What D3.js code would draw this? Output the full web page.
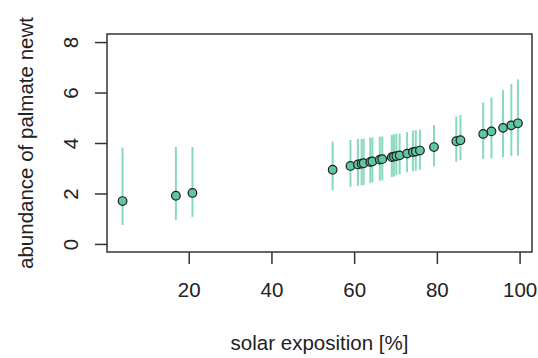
<!DOCTYPE html>
<html>
<head>
<meta charset="utf-8">
<script src="https://cdn.jsdelivr.net/npm/d3@7"></script>
<style>
  html, body { margin: 0; padding: 0; background: #fff; }
  svg { display: block; }
  text { font-family: "Liberation Sans", Arial, sans-serif; fill: #222; }
</style>
</head>
<body>
<div id="chart"></div>
<script>
// ---- data ----
const solarExposition = [4.0, 16.9, 20.9, 54.8, 59.1, 60.9, 61.8, 62.3, 63.9, 64.4, 66.2, 66.8, 69.1, 69.6, 70.2, 71.0, 72.8, 74.2, 74.9, 75.9, 79.3, 84.7, 85.7, 91.2, 93.2, 96.0, 98.0, 99.6];
const abundance       = [1.70, 1.91, 2.02, 2.94, 3.09, 3.15, 3.18, 3.20, 3.25, 3.27, 3.34, 3.36, 3.44, 3.46, 3.48, 3.51, 3.58, 3.64, 3.66, 3.70, 3.84, 4.07, 4.11, 4.36, 4.46, 4.60, 4.70, 4.78];
const lowerCI         = [0.75, 0.96, 1.07, 2.12, 2.26, 2.30, 2.32, 2.34, 2.42, 2.44, 2.50, 2.52, 2.65, 2.67, 2.72, 2.76, 2.84, 2.88, 2.90, 2.94, 3.07, 3.26, 3.32, 3.37, 3.38, 3.44, 3.49, 3.50];
const upperCI         = [3.82, 3.84, 3.84, 4.06, 4.12, 4.16, 4.16, 4.17, 4.21, 4.22, 4.25, 4.26, 4.32, 4.34, 4.36, 4.37, 4.43, 4.49, 4.51, 4.53, 4.71, 5.05, 5.11, 5.60, 5.81, 6.10, 6.34, 6.52];
const xTicks = [20, 40, 60, 80, 100];
const yTicks = [0, 2, 4, 6, 8];
const xLabel = "solar exposition [%]";
const yLabel = "abundance of palmate newt";

// ---- layout ----
const W = 538, H = 358;
const box = { left: 107, right: 532, top: 34, bottom: 252 };

const svg = d3.select("#chart").append("svg").attr("width", W).attr("height", H);

const x = d3.scaleLinear().domain([0.24, 103.0]).range([box.left, box.right]);
const y = d3.scaleLinear().domain([-0.32, 8.32]).range([box.bottom, box.top]);

const rows = solarExposition.map((v, i) => ({ x: v, y: abundance[i], lo: lowerCI[i], hi: upperCI[i] }));

// error bars
svg.append("g").selectAll("line").data(rows).join("line")
  .attr("x1", d => x(d.x)).attr("x2", d => x(d.x))
  .attr("y1", d => y(d.lo)).attr("y2", d => y(d.hi))
  .attr("stroke", "#66CDAA").attr("stroke-opacity", 0.78).attr("stroke-width", 2);

// points
svg.append("g").selectAll("circle").data(rows).join("circle")
  .attr("cx", d => x(d.x)).attr("cy", d => y(d.y)).attr("r", 4.3)
  .attr("fill", "#5EC7A2").attr("stroke", "#1e1e1e").attr("stroke-width", 1.2);

// box
svg.append("rect")
  .attr("x", box.left).attr("y", box.top)
  .attr("width", box.right - box.left).attr("height", box.bottom - box.top)
  .attr("fill", "none").attr("stroke", "#333").attr("stroke-width", 1.5);

// x axis
const xAxis = d3.axisBottom(x).tickValues(xTicks).tickSize(12).tickPadding(18).tickFormat(d3.format("d"));
const gx = svg.append("g").attr("transform", `translate(0,${box.bottom})`).call(xAxis);
gx.select(".domain").remove();
gx.selectAll(".tick line").attr("stroke", "#333").attr("stroke-width", 1.5);
gx.selectAll(".tick text").style("font-size", "20.5px").style("font-family", "Liberation Sans, Arial, sans-serif").attr("fill", "#222");

// y axis
const yAxis = d3.axisLeft(y).tickValues(yTicks).tickSize(12).tickFormat(d3.format("d"));
const gy = svg.append("g").attr("transform", `translate(${box.left},0)`).call(yAxis);
gy.select(".domain").remove();
gy.selectAll(".tick line").attr("stroke", "#333").attr("stroke-width", 1.5);
gy.selectAll(".tick text")
  .attr("x", null).attr("dy", null)
  .attr("transform", "translate(-29,0) rotate(-90)")
  .attr("text-anchor", "middle")
  .style("font-size", "20.5px").style("font-family", "Liberation Sans, Arial, sans-serif").attr("fill", "#222");

// axis titles
svg.append("text")
  .attr("x", (box.left + box.right) / 2).attr("y", 350)
  .attr("text-anchor", "middle").style("font-size", "20.5px")
  .text(xLabel);

svg.append("text")
  .attr("transform", `translate(33,${(box.top + box.bottom) / 2}) rotate(-90)`)
  .attr("text-anchor", "middle").style("font-size", "20.5px")
  .text(yLabel);
</script>
</body>
</html>
